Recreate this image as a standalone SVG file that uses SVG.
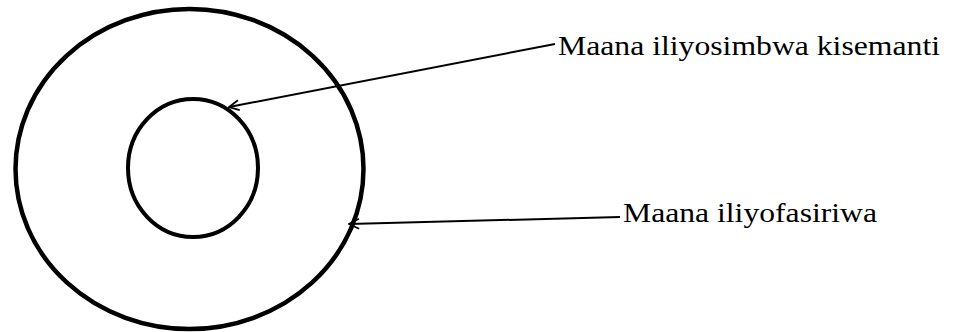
<svg xmlns="http://www.w3.org/2000/svg" width="953" height="332" viewBox="0 0 953 332">
  <style>
    .ring { fill: none; stroke: #000; }
    .lead { fill: none; stroke: #000; stroke-width: 2; marker-end: url(#openArrow); }
    .label { font-family: "Liberation Serif", "Times New Roman", serif; font-size: 27px; fill: #000; }
  </style>
  <defs>
    <marker id="openArrow" viewBox="0 0 12 12" refX="11" refY="6" markerWidth="12" markerHeight="12" markerUnits="userSpaceOnUse" orient="auto">
      <path d="M1,1 L11,6 L1,11" fill="none" stroke="#000" stroke-width="1.8"/>
    </marker>
  </defs>

  <g id="outer-ring">
    <ellipse class="ring" cx="189.5" cy="169" rx="174" ry="160" stroke-width="4.5"/>
  </g>
  <g id="inner-ring">
    <ellipse class="ring" cx="193" cy="168" rx="65" ry="69" stroke-width="4"/>
  </g>

  <g id="connectors">
    <line class="lead" x1="555" y1="44" x2="229" y2="107"/>
    <line class="lead" x1="620" y1="217" x2="349" y2="224"/>
  </g>

  <g id="label-encoded">
    <text class="label" x="558" y="55" textLength="382" lengthAdjust="spacingAndGlyphs">Maana iliyosimbwa kisemanti</text>
  </g>
  <g id="label-interpreted">
    <text class="label" x="623" y="222" textLength="254" lengthAdjust="spacingAndGlyphs">Maana iliyofasiriwa</text>
  </g>
</svg>
